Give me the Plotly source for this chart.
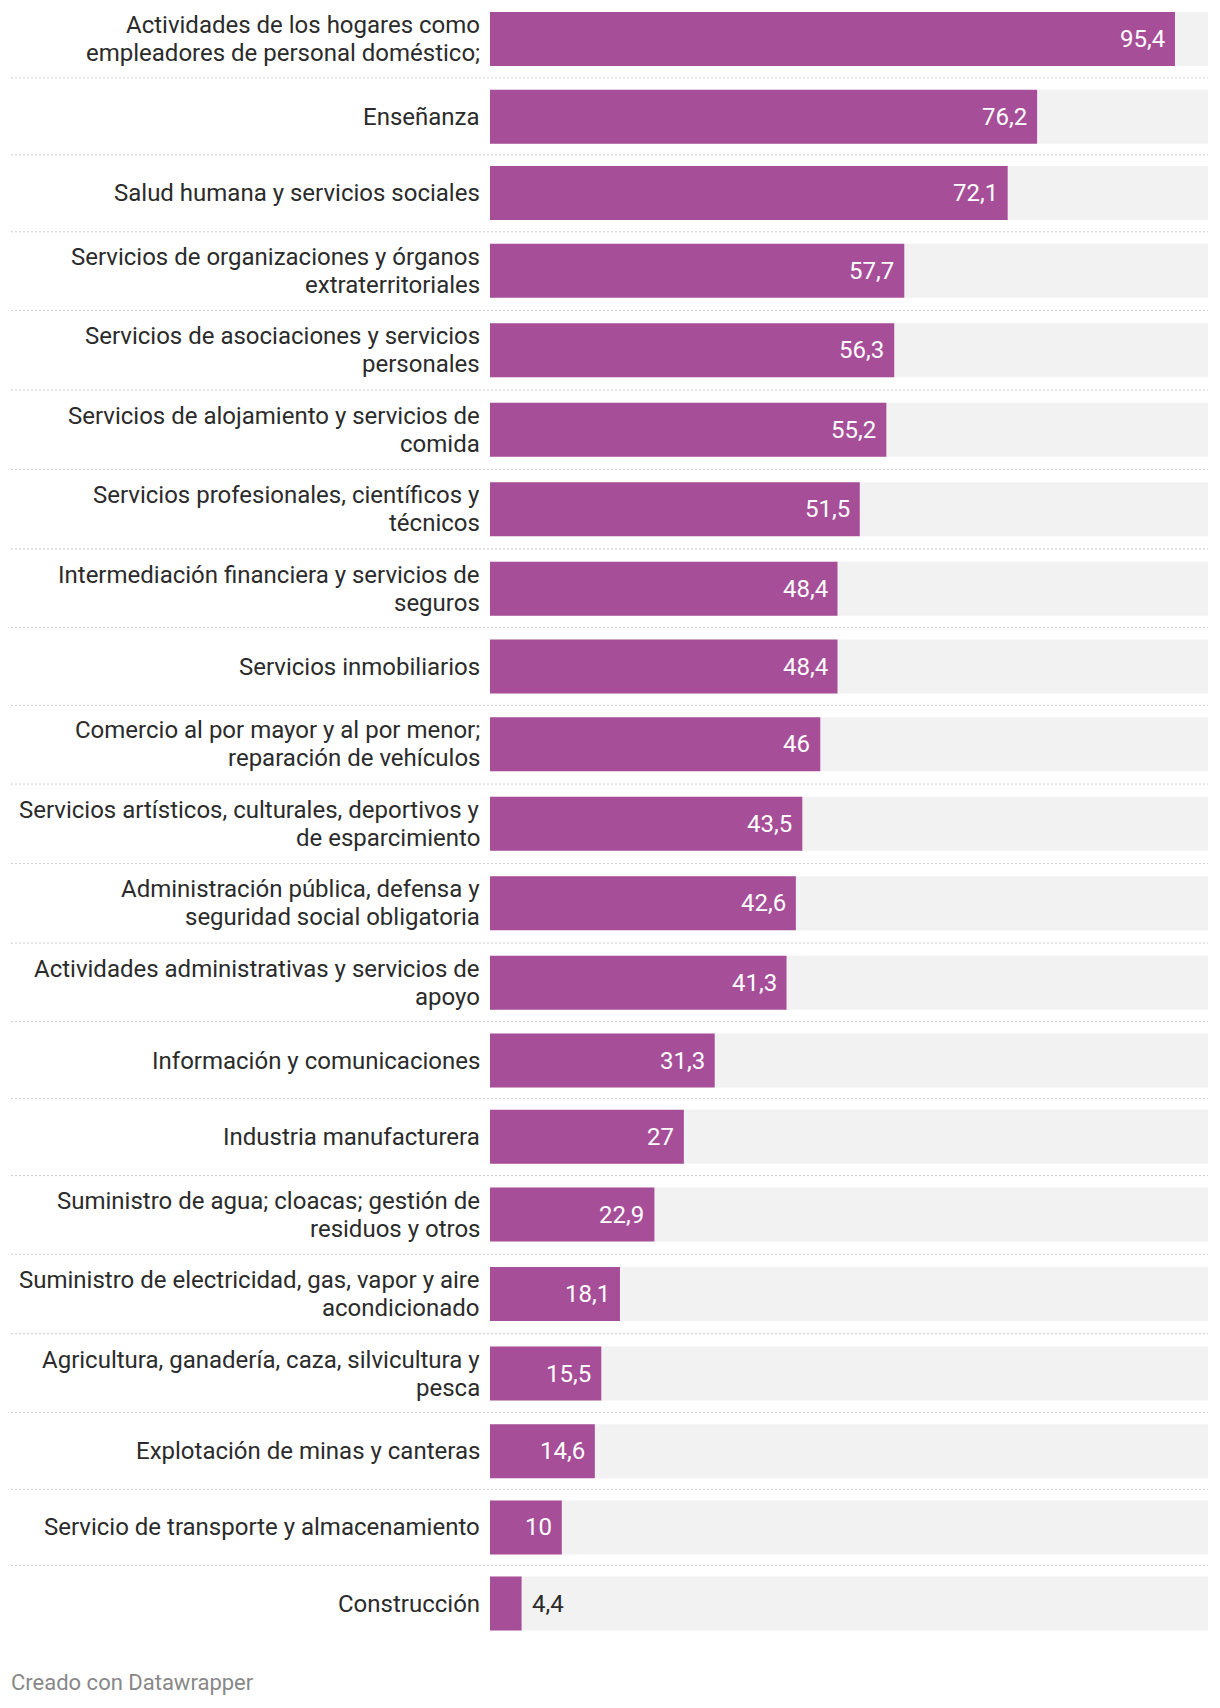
import plotly.graph_objects as go

# ---------------- data ----------------
categories = [
    "Actividades de los hogares como<br>empleadores de personal doméstico;",
    "Enseñanza",
    "Salud humana y servicios sociales",
    "Servicios de organizaciones y órganos<br>extraterritoriales",
    "Servicios de asociaciones y servicios<br>personales",
    "Servicios de alojamiento y servicios de<br>comida",
    "Servicios profesionales, científicos y<br>técnicos",
    "Intermediación financiera y servicios de<br>seguros",
    "Servicios inmobiliarios",
    "Comercio al por mayor y al por menor;<br>reparación de vehículos",
    "Servicios artísticos, culturales, deportivos y<br>de esparcimiento",
    "Administración pública, defensa y<br>seguridad social obligatoria",
    "Actividades administrativas y servicios de<br>apoyo",
    "Información y comunicaciones",
    "Industria manufacturera",
    "Suministro de agua; cloacas; gestión de<br>residuos y otros",
    "Suministro de electricidad, gas, vapor y aire<br>acondicionado",
    "Agricultura, ganadería, caza, silvicultura y<br>pesca",
    "Explotación de minas y canteras",
    "Servicio de transporte y almacenamiento",
    "Construcción",
]
values = [95.4, 76.2, 72.1, 57.7, 56.3, 55.2, 51.5, 48.4, 48.4, 46, 43.5,
          42.6, 41.3, 31.3, 27, 22.9, 18.1, 15.5, 14.6, 10, 4.4]
scale_max = 100
footer = "Creado con Datawrapper"

# ---------------- layout constants ----------------
W, H = 1220, 1708
PLOT_L, PLOT_R = 490, 1208
BAR_H = 54
HALF = {1: 38.05, 2: 39.75}   # half row height by label line count
FIRST_CENTER = 39
LINE_GAP = 28
FONT = "Roboto, 'Noto Sans', sans-serif"
LABEL_SIZE = 24
TEXT_COLOR = "#2b2b2b"
BAR_COLOR = "#a74e98"
BG_COLOR = "#f2f2f2"

lines = [c.split("<br>") for c in categories]
centers = []
yc = FIRST_CENTER
for i, ln in enumerate(lines):
    if i > 0:
        yc += HALF[len(lines[i - 1])] + HALF[len(ln)]
    centers.append(yc)

n = len(values)
fig = go.Figure()
fig.add_trace(go.Bar(
    x=[scale_max] * n, y=centers, orientation="h", width=BAR_H,
    marker=dict(color=BG_COLOR, line_width=0), hoverinfo="skip", showlegend=False,
))
fig.add_trace(go.Bar(
    x=values, y=centers, orientation="h", width=BAR_H,
    marker=dict(color=BAR_COLOR, line_width=0), showlegend=False,
    hovertemplate="%{x}<extra></extra>",
))

annotations = []
for ln, c in zip(lines, centers):
    k = len(ln)
    for j, t in enumerate(ln):
        annotations.append(dict(
            xref="paper", x=0, xanchor="right", xshift=-8,
            yref="y", y=c + (j - (k - 1) / 2) * LINE_GAP, yanchor="middle",
            text=t, showarrow=False, align="right",
            font=dict(family=FONT, size=LABEL_SIZE, color=TEXT_COLOR),
        ))

def fmt(v):
    return f"{v:g}".replace(".", ",")

for v, c in zip(values, centers):
    inside = v >= 8
    annotations.append(dict(
        xref="x", x=v, xanchor="right" if inside else "left",
        xshift=-8 if inside else 8,
        yref="y", y=c, yanchor="middle", text=fmt(v), showarrow=False,
        font=dict(family=FONT, size=LABEL_SIZE,
                  color="#ffffff" if inside else TEXT_COLOR),
    ))

annotations.append(dict(
    xref="paper", x=(9 - PLOT_L) / (PLOT_R - PLOT_L), xanchor="left",
    yref="y", y=1682, yanchor="middle", text=footer, showarrow=False,
    font=dict(family=FONT, size=22, color="#888888"),
))

shapes = []
for i in range(n - 1):
    sy = ((centers[i] + BAR_H / 2) + (centers[i + 1] - BAR_H / 2)) / 2
    shapes.append(dict(
        type="line", xref="paper", yref="paper",
        x0=(11 - PLOT_L) / (PLOT_R - PLOT_L), x1=1,
        y0=1 - sy / H, y1=1 - sy / H,
        line=dict(color="#cccccc", width=1, dash="2px,2px"),
    ))

fig.update_layout(
    width=W, height=H,
    margin=dict(l=PLOT_L, r=W - PLOT_R, t=0, b=0, pad=0),
    barmode="overlay",
    paper_bgcolor="white", plot_bgcolor="white",
    xaxis=dict(range=[0, scale_max], visible=False, fixedrange=True),
    yaxis=dict(range=[H, 0], visible=False, fixedrange=True),
    annotations=annotations, shapes=shapes,
    font=dict(family=FONT, color=TEXT_COLOR),
    showlegend=False,
)

fig.write_html(
    "out.html",
    config={"displayModeBar": False},
    post_script="document.body.style.margin='0';document.body.style.padding='0';",
)
